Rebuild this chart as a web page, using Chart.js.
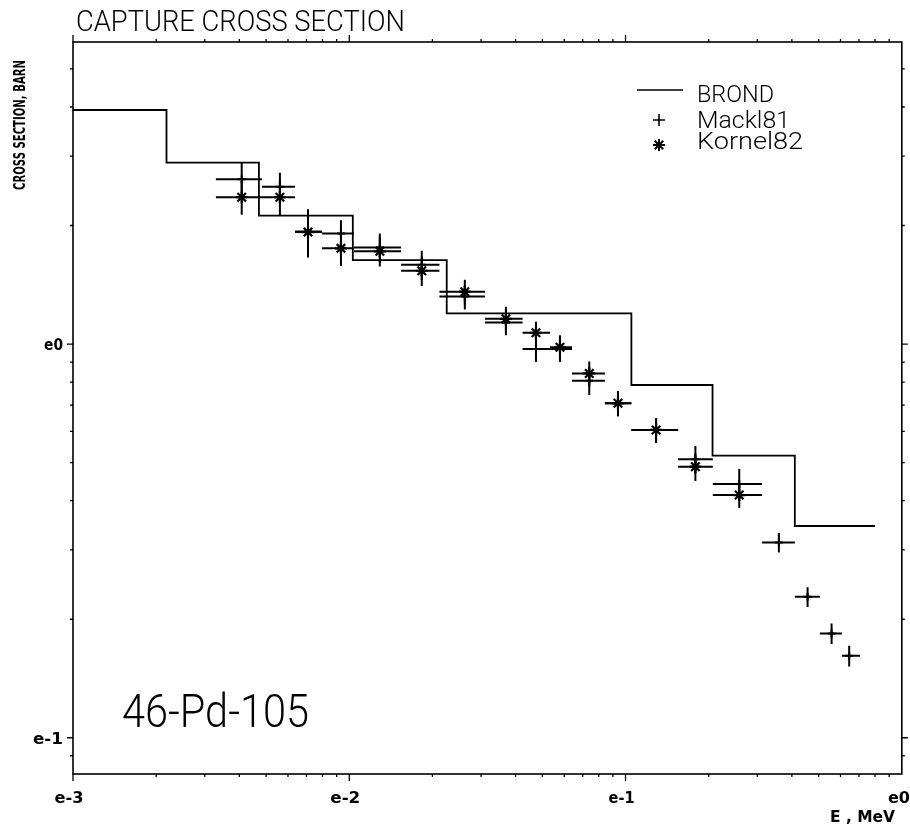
<!DOCTYPE html>
<html>
<head>
<meta charset="utf-8">
<script src="https://cdn.jsdelivr.net/npm/chart.js@4.4.0/dist/chart.umd.min.js"></script>
<style>
html, body { margin: 0; padding: 0; background: #fff; }
</style>
</head>
<body>
<canvas id="chart" width="910" height="827"></canvas>
<script>
// BROND evaluation, step curve (start energy of each step, MeV / barn)
const brondE   = [0.001, 0.00218, 0.00471, 0.0103, 0.02253, 0.105, 0.2065, 0.41, 0.80];
const brondSig = [3.93, 2.89, 2.12, 1.634, 1.197, 0.787, 0.5204, 0.345, 0.345];

// Mackl81 measurements
const mackE   = [0.00408, 0.00561, 0.00709, 0.00933, 0.0129, 0.0183, 0.0262, 0.0369, 0.0474, 0.0579,
                 0.0739, 0.0939, 0.129, 0.179, 0.258, 0.359, 0.456, 0.557, 0.645];
const mackLo  = [0.00329, 0.00483, 0.00636, 0.00797, 0.0104, 0.0154, 0.0212, 0.0310, 0.0424, 0.0533,
                 0.0640, 0.0842, 0.105, 0.155, 0.207, 0.312, 0.410, 0.505, 0.607];
const mackHi  = [0.00483, 0.00636, 0.00797, 0.0104, 0.0154, 0.0212, 0.0310, 0.0424, 0.0533, 0.0640,
                 0.0842, 0.105, 0.155, 0.207, 0.312, 0.410, 0.505, 0.607, 0.706];
const mackSig = [2.62, 2.51, 1.93, 1.91, 1.76, 1.59, 1.32, 1.135, 0.971, 0.971,
                 0.807, 0.707, 0.605, 0.51, 0.441, 0.3135, 0.228, 0.184, 0.1615];
const mackErr = [10, 8.5, 14, 8, 8.5, 8.5, 7.3, 7.3, 7.3, 7.3, 8, 7.3, 7.3, 8, 9.2, 5.7, 5.8, 6, 6]; // %

// Kornel82 measurements
const kornE   = [0.00408, 0.00561, 0.00709, 0.00933, 0.0129, 0.0183, 0.0262, 0.0369, 0.0474, 0.0579,
                 0.0739, 0.0939, 0.129, 0.179, 0.258];
const kornLo  = [0.00329, 0.00483, 0.00636, 0.00797, 0.0104, 0.0154, 0.0212, 0.0310, 0.0424, 0.0533,
                 0.0640, 0.0842, 0.105, 0.155, 0.207];
const kornHi  = [0.00483, 0.00636, 0.00797, 0.0104, 0.0154, 0.0212, 0.0310, 0.0424, 0.0533, 0.0640,
                 0.0842, 0.105, 0.155, 0.207, 0.312];
const kornSig = [2.36, 2.36, 1.925, 1.75, 1.72, 1.535, 1.358, 1.159, 1.068, 0.981,
                 0.842, 0.707, 0.605, 0.488, 0.4135];
const kornErr = [9.8, 10.4, 9.8, 9.8, 8.5, 8.5, 7.3, 7.3, 6.6, 7.3, 7.3, 7.3, 7.3, 8, 7.3]; // %

// axis ranges and labels
const xMin = 0.001, xMax = 1;
const yMin = 0.0809, yMax = 5.85;
const xDecades = [0.001, 0.01, 0.1, 1];
const xDecLabels = ['e-3', 'e-2', 'e-1', 'e0'];
const yDecades = [0.1, 1];
const yDecLabels = ['e-1', 'e0'];

const pts = (xs, ys) => xs.map((x, i) => ({ x: x, y: ys[i] }));

// draw text squeezed to a given width (plotter lettering is narrow)
function fitText(ctx, txt, x, y, w, font, align) {
    ctx.font = font;
    const m = ctx.measureText(txt).width;
    let left = x;
    if (align === 'center') left = x - w / 2;
    if (align === 'right') left = x - w;
    ctx.save();
    ctx.translate(left, y);
    ctx.scale(w / m, 1);
    ctx.textAlign = 'left';
    ctx.textBaseline = 'alphabetic';
    ctx.fillText(txt, 0, 0);
    ctx.restore();
}

function errorBars(ctx, xs, x, y, lo, hi, sig, err) {
    for (let i = 0; i < sig.length; i++) {
        const px = x.getPixelForValue(xs[i]);
        const py = y.getPixelForValue(sig[i]);
        const e = err[i] / 100;
        ctx.beginPath();
        ctx.moveTo(x.getPixelForValue(lo[i]), py);
        ctx.lineTo(x.getPixelForValue(hi[i]), py);
        ctx.moveTo(px, y.getPixelForValue(sig[i] * (1 + e)));
        ctx.lineTo(px, y.getPixelForValue(sig[i] * (1 - e)));
        ctx.stroke();
    }
}

const framePlugin = {
    id: 'frame',
    beforeDatasetsDraw(chart) {
        const ctx = chart.ctx;
        const x = chart.scales.x, y = chart.scales.y;
        ctx.save();
        ctx.strokeStyle = '#000';
        ctx.lineWidth = 2;
        errorBars(ctx, mackE, x, y, mackLo, mackHi, mackSig, mackErr);
        errorBars(ctx, kornE, x, y, kornLo, kornHi, kornSig, kornErr);
        ctx.restore();
    },
    afterDraw(chart) {
        const ctx = chart.ctx;
        const a = chart.chartArea;
        const x = chart.scales.x, y = chart.scales.y;
        ctx.save();
        ctx.strokeStyle = '#000';
        ctx.fillStyle = '#000';
        ctx.lineWidth = 1.6;
        ctx.strokeRect(a.left, a.top, a.right - a.left, a.bottom - a.top);

        // tick marks, all four sides, outward
        ctx.lineWidth = 1.3;
        ctx.beginPath();
        for (let d = -3; d < 0; d++) {
            for (let m = 1; m <= 9; m++) {
                const v = m * Math.pow(10, d);
                const px = x.getPixelForValue(v);
                const len = m === 1 ? 7 : 3;
                ctx.moveTo(px, a.bottom); ctx.lineTo(px, a.bottom + len);
                ctx.moveTo(px, a.top); ctx.lineTo(px, a.top - len);
            }
        }
        for (let d = -2; d <= 0; d++) {
            for (let m = 1; m <= 9; m++) {
                const v = m * Math.pow(10, d);
                if (v < yMin || v > yMax) continue;
                const py = y.getPixelForValue(v);
                const len = m === 1 ? 6 : 3;
                ctx.moveTo(a.left, py); ctx.lineTo(a.left - len, py);
                ctx.moveTo(a.right, py); ctx.lineTo(a.right + len, py);
            }
        }
        ctx.stroke();

        // tick labels
        const xw = [29, 30, 26, 22];
        xDecades.forEach((v, i) => {
            let cx = x.getPixelForValue(v) - 4;
            if (i === xDecades.length - 1) cx = 899;
            fitText(ctx, xDecLabels[i], cx, 803, xw[i], 'bold 16px "DejaVu Sans"', 'center');
        });
        const yw = [30, 19];
        yDecades.forEach((v, i) => {
            fitText(ctx, yDecLabels[i], 63, y.getPixelForValue(v) + 6, yw[i], 'bold 15px "DejaVu Sans"', 'right');
        });

        // titles
        fitText(ctx, 'CAPTURE CROSS SECTION', 76, 31, 329, '300 30px Roboto', 'left');
        fitText(ctx, 'E , MeV', 830, 822, 65, 'bold 15px "DejaVu Sans"', 'left');
        ctx.save();
        ctx.translate(25, 190);
        ctx.rotate(-Math.PI / 2);
        fitText(ctx, 'CROSS SECTION, BARN', 0, 0, 130, 'bold 15px "DejaVu Sans"', 'left');
        ctx.restore();
        fitText(ctx, '46-Pd-105', 122, 727, 187, '300 46px Roboto', 'left');

        // legend
        ctx.lineWidth = 1.6;
        ctx.beginPath();
        ctx.moveTo(637, 90); ctx.lineTo(683, 90);
        ctx.moveTo(653, 120); ctx.lineTo(665, 120);
        ctx.moveTo(659, 114); ctx.lineTo(659, 126);
        ctx.stroke();
        ctx.lineWidth = 2;
        ctx.beginPath();
        for (let k = 0; k < 4; k++) {
            const ang = k * Math.PI / 4;
            const dx = Math.cos(ang) * 6, dy = Math.sin(ang) * 6;
            ctx.moveTo(659 - dx, 145 - dy); ctx.lineTo(659 + dx, 145 + dy);
        }
        ctx.stroke();
        fitText(ctx, 'BROND', 697, 102, 77, '300 24px Roboto', 'left');
        fitText(ctx, 'Mackl81', 697, 128, 93, '300 24px Roboto', 'left');
        fitText(ctx, 'Kornel82', 697, 149, 106, '300 24px Roboto', 'left');
        ctx.restore();
    }
};

new Chart(document.getElementById('chart'), {
    type: 'line',
    data: {
        datasets: [
            {
                label: 'BROND',
                data: pts(brondE, brondSig),
                stepped: true,
                borderColor: '#000',
                borderWidth: 1.8,
                pointRadius: 0,
                fill: false
            },
            {
                label: 'Mackl81',
                data: pts(mackE, mackSig),
                showLine: false,
                pointStyle: 'cross',
                pointRadius: 4,
                borderColor: '#000',
                pointBorderWidth: 2
            },
            {
                label: 'Kornel82',
                data: pts(kornE, kornSig),
                showLine: false,
                pointStyle: 'star',
                pointRadius: 6,
                borderColor: '#000',
                pointBorderWidth: 2.2
            }
        ]
    },
    options: {
        responsive: false,
        animation: false,
        devicePixelRatio: 1,
        layout: { padding: { left: 73, top: 42, right: 8, bottom: 53 } },
        plugins: { legend: { display: false }, tooltip: { enabled: false } },
        scales: {
            x: { type: 'logarithmic', min: xMin, max: xMax, display: false },
            y: { type: 'logarithmic', min: yMin, max: yMax, display: false }
        }
    },
    plugins: [framePlugin]
});
</script>
</body>
</html>
